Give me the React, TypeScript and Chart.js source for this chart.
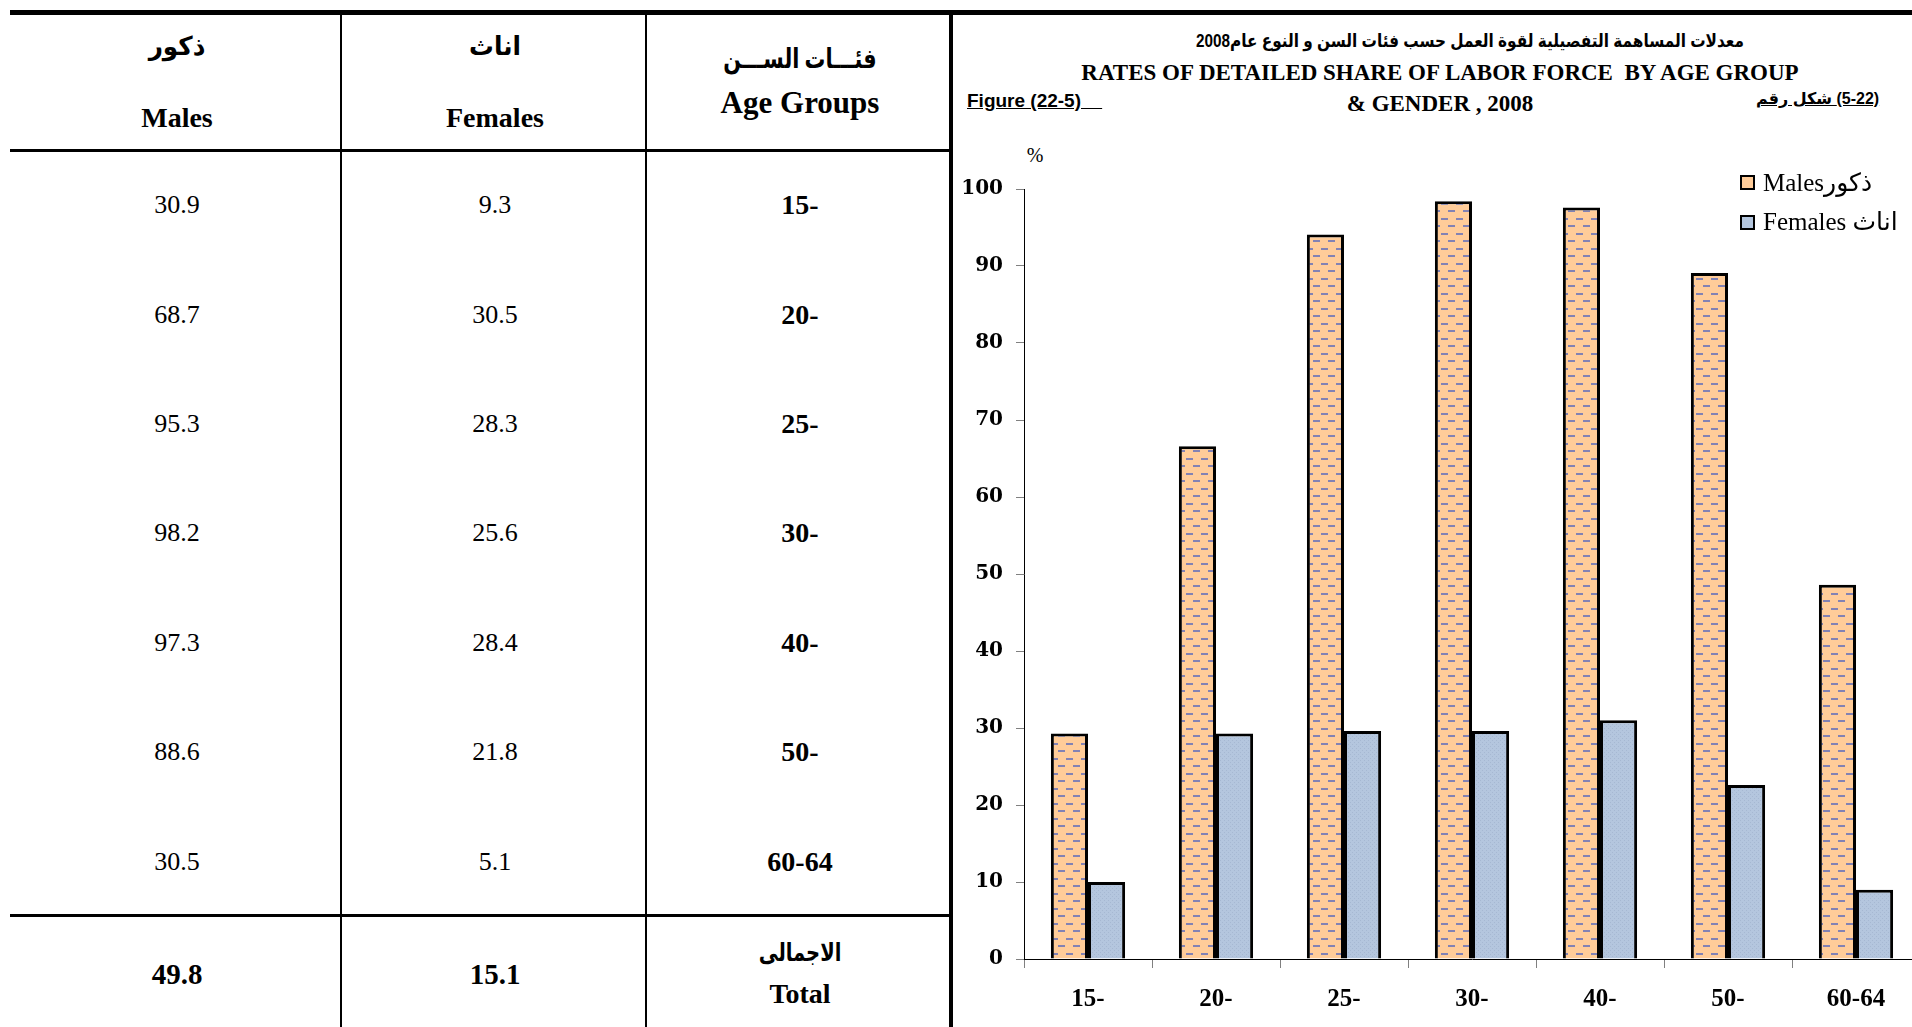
import React, { useEffect, useRef } from "react";
import { Chart, registerables } from "chart.js";

Chart.register(...registerables);

// ---- chart data ----
const categories = ["15-", "20-", "25-", "30-", "40-", "50-", "60-64"];
const malesChart = [29.3, 66.6, 94.1, 98.4, 97.6, 89.1, 48.6];
const femalesChart = [10.0, 29.3, 29.6, 29.6, 31.0, 22.6, 9.0];
const yMin = 0;
const yMax = 100;
const yStep = 10;

// ---- table data ----
const tableAges = ["15-", "20-", "25-", "30-", "40-", "50-", "60-64"];
const tableMales = ["30.9", "68.7", "95.3", "98.2", "97.3", "88.6", "30.5"];
const tableFemales = ["9.3", "30.5", "28.3", "25.6", "28.4", "21.8", "5.1"];
const totalMales = "49.8";
const totalFemales = "15.1";

// ---- texts ----
const titleArabic = "معدلات المساهمة التفصيلية لقوة العمل حسب فئات السن و النوع عام2008";
const titleLine1 = "RATES OF DETAILED SHARE OF LABOR FORCE  BY AGE GROUP";
const titleLine2 = "& GENDER , 2008";
const figureEn = "Figure (22-5)\u00a0\u00a0\u00a0\u00a0";
const figureArWord = "شكل رقم";
const figureArNum = "(5-22)";
const legendMales = "Malesذكور";
const legendFemales = "Females اناث";

const SERIF = '"Liberation Serif", "Times New Roman", "DejaVu Sans", serif';
const SANS = '"Liberation Sans", Arial, "DejaVu Sans", sans-serif';

function makeMalePattern(): CanvasPattern | string {
  const c = document.createElement("canvas");
  c.width = 15;
  c.height = 15;
  const g = c.getContext("2d");
  if (!g) return "#FFCC99";
  g.fillStyle = "#FFCC99";
  g.fillRect(0, 0, 15, 15);
  g.fillStyle = "#8282B4";
  g.fillRect(1, 3, 7, 2);
  g.fillRect(8, 10, 7, 2);
  return g.createPattern(c, "repeat") || "#FFCC99";
}

function makeFemalePattern(): CanvasPattern | string {
  const c = document.createElement("canvas");
  c.width = 4;
  c.height = 4;
  const g = c.getContext("2d");
  if (!g) return "#B4C6DE";
  g.fillStyle = "#B4C6DE";
  g.fillRect(0, 0, 4, 4);
  g.fillStyle = "#A6B8D2";
  g.fillRect(0, 0, 1, 1);
  g.fillRect(2, 2, 1, 1);
  return g.createPattern(c, "repeat") || "#B4C6DE";
}

const abs = (style: React.CSSProperties): React.CSSProperties => ({
  position: "absolute",
  whiteSpace: "pre",
  lineHeight: 1,
  width: "max-content",
  ...style,
});

function CText(props: {
  x: number;
  y: number;
  size: number;
  bold?: boolean;
  family?: string;
  dir?: "rtl" | "ltr";
  sx?: number;
  children: React.ReactNode;
}) {
  return (
    <div
      dir={props.dir || "ltr"}
      style={abs({
        left: props.x,
        top: props.y,
        transform: `translate(-50%, -50%) scaleX(${props.sx || 1})`,
        fontSize: props.size,
        fontWeight: props.bold ? "bold" : "normal",
        fontFamily: props.family || SERIF,
        color: "#000",
      })}
    >
      {props.children}
    </div>
  );
}

function Line(props: { x: number; y: number; w: number; h: number }) {
  return (
    <div
      style={{
        position: "absolute",
        left: props.x,
        top: props.y,
        width: props.w,
        height: props.h,
        background: "#000",
      }}
    />
  );
}

function BarChart() {
  const ref = useRef<HTMLCanvasElement | null>(null);
  useEffect(() => {
    const canvas = ref.current;
    if (!canvas) return;
    const chart = new Chart(canvas, {
      type: "bar",
      data: {
        labels: categories,
        datasets: [
          {
            label: "Males",
            data: malesChart,
            backgroundColor: makeMalePattern() as any,
            borderColor: "#000",
            borderWidth: 3,
            categoryPercentage: 0.58,
            barPercentage: 1.0,
          },
          {
            label: "Females",
            data: femalesChart,
            backgroundColor: makeFemalePattern() as any,
            borderColor: "#000",
            borderWidth: 3,
            categoryPercentage: 0.58,
            barPercentage: 1.0,
          },
        ],
      },
      options: {
        responsive: false,
        animation: false,
        devicePixelRatio: 1,
        layout: { padding: { top: 49, right: 40, left: 0, bottom: 0 } },
        plugins: {
          legend: { display: false },
          tooltip: { enabled: false },
          title: { display: false },
        },
        scales: {
          x: {
            offset: true,
            grid: {
              offset: true,
              drawOnChartArea: false,
              drawTicks: true,
              tickLength: 9,
              color: "#808080",
            },
            border: { color: "#000", width: 1 },
            ticks: {
              color: "#000",
              font: { family: SERIF, size: 25, weight: "bold" },
              padding: 17,
              maxRotation: 0,
            },
            afterFit: (scale: any) => {
              scale.height = 68;
            },
          },
          y: {
            min: yMin,
            max: yMax,
            grid: {
              drawOnChartArea: false,
              drawTicks: true,
              tickLength: 8,
              color: "#808080",
            },
            border: { color: "#000", width: 1 },
            ticks: {
              stepSize: yStep,
              color: "#000",
              font: { family: '"DejaVu Serif", serif', size: 20, weight: "bold" },
              padding: 13,
            },
            afterFit: (scale: any) => {
              scale.width = 64;
            },
          },
        },
      } as any,
    });
    return () => chart.destroy();
  }, []);
  return (
    <canvas
      ref={ref}
      width={1000}
      height={887}
      style={{ position: "absolute", left: 960, top: 140, width: 1000, height: 887 }}
    />
  );
}

export default function App() {
  const rowYs = [205, 315, 424, 533, 643, 752, 862];
  const colMales = 177;
  const colFemales = 495;
  const colAge = 800;
  return (
    <div
      style={{
        position: "fixed",
        left: 0,
        top: 0,
        width: 1912,
        height: 1027,
        overflow: "hidden",
        background: "#fff",
      }}
    >
      {/* lines of the table */}
      <Line x={10} y={10} w={1902} h={5} />
      <Line x={10} y={149} w={941} h={3} />
      <Line x={10} y={914} w={941} h={3} />
      <Line x={340} y={10} w={2} h={1017} />
      <Line x={645} y={10} w={2} h={1017} />
      <Line x={949} y={10} w={4} h={1017} />

      {/* header */}
      <CText x={colMales} y={47} size={26} bold sx={0.95}>ذكور</CText>
      <CText x={colMales} y={118} size={28} bold>Males</CText>
      <CText x={colFemales} y={47} size={26} bold sx={0.95}>اناث</CText>
      <CText x={colFemales} y={118} size={28} bold>Females</CText>
      <CText x={colAge} y={59} size={27} bold sx={0.77}>فئـــات الســـن</CText>
      <CText x={colAge} y={102} size={31} bold>Age Groups</CText>

      {/* rows */}
      {rowYs.map((y, i) => (
        <React.Fragment key={i}>
          <CText x={colMales} y={y} size={26}>{tableMales[i]}</CText>
          <CText x={colFemales} y={y} size={26}>{tableFemales[i]}</CText>
          <CText x={colAge} y={y} size={28} bold>{tableAges[i]}</CText>
        </React.Fragment>
      ))}

      {/* totals */}
      <CText x={colMales} y={974} size={29} bold>{totalMales}</CText>
      <CText x={colFemales} y={974} size={29} bold>{totalFemales}</CText>
      <CText x={colAge} y={952} size={25} bold sx={0.78}>الاجمالى</CText>
      <CText x={colAge} y={994} size={28} bold>Total</CText>

      {/* chart titles */}
      <CText x={1470} y={41} size={18} bold family={SANS} dir="rtl" sx={0.85}>{titleArabic}</CText>
      <CText x={1440} y={72} size={23} bold>{titleLine1}</CText>
      <CText x={1440} y={103} size={23} bold>{titleLine2}</CText>
      <div
        style={abs({
          left: 967,
          top: 91,
          fontSize: 19,
          fontWeight: "bold",
          fontFamily: SANS,
          textDecoration: "underline",
        })}
      >
        {figureEn}
      </div>
      <div
        style={abs({
          left: 1756,
          top: 91,
          fontSize: 16,
          fontWeight: "bold",
          fontFamily: SANS,
          textDecoration: "underline",
          display: "flex",
          direction: "ltr",
        })}
      >
        <span dir="rtl" style={{ unicodeBidi: "isolate" }}>{figureArWord}</span>
        <span style={{ whiteSpace: "pre" }}> </span>
        <span dir="ltr" style={{ unicodeBidi: "isolate" }}>{figureArNum}</span>
      </div>
      <CText x={1035} y={155} size={20}>%</CText>

      <BarChart />

      {/* legend */}
      <div
        style={{
          position: "absolute",
          left: 1740,
          top: 175,
          width: 11,
          height: 11,
          border: "2px solid #000",
          background: "#FFCC99",
        }}
      />
      <div style={abs({ left: 1763, top: 170, fontSize: 25, fontFamily: SERIF })}>{legendMales}</div>
      <div
        style={{
          position: "absolute",
          left: 1740,
          top: 215,
          width: 11,
          height: 11,
          border: "2px solid #000",
          background: "#B4C6DE",
        }}
      />
      <div style={abs({ left: 1763, top: 209, fontSize: 25, fontFamily: SERIF })}>{legendFemales}</div>
    </div>
  );
}
